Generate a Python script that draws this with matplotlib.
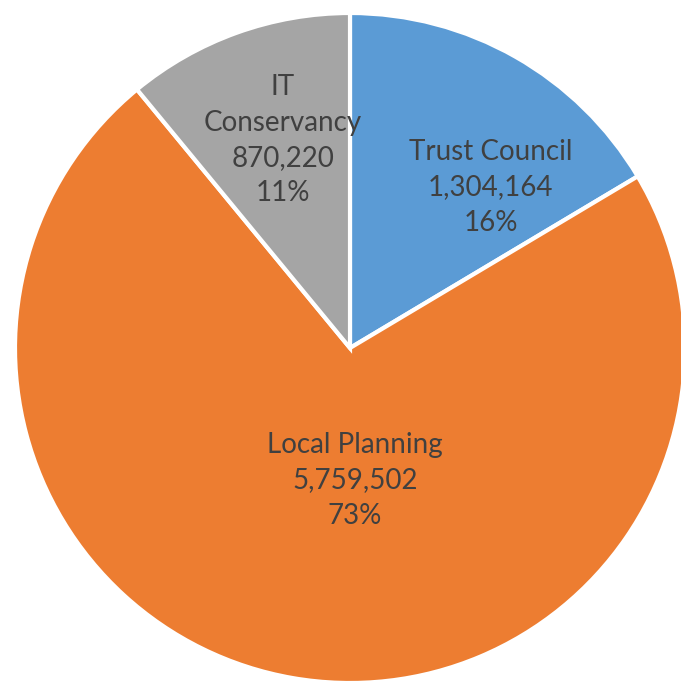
import matplotlib.pyplot as plt
import numpy as np

categories = ["Trust Council", "Local Planning", "IT\nConservancy"]
values = [1304164, 5759502, 870220]
colors = ["#5B9BD5", "#ED7D31", "#A5A5A5"]
# label offsets from centre (in pie radii), as Excel placed them
label_pos = [(0.42, 0.48), (0.015, -0.395), (-0.20, 0.62)]

fig = plt.figure(figsize=(6.81, 6.87), dpi=100)
ax = fig.add_axes([0, 0, 1, 1])

ax.pie(values, colors=colors, startangle=90, counterclock=False,
       wedgeprops=dict(edgecolor="white", linewidth=3))

total = sum(values)
for name, v, (x, y) in zip(categories, values, label_pos):
    pct = round(100 * v / total)
    ax.text(x, y, f"{name}\n{v:,}\n{pct}%", ha="center", va="center",
            fontsize=20, color="#404040", family="Lato", linespacing=1.45)

# centre at pixel (350, 348), radius 335 px
r = 335
ax.set_xlim(-350 / r, (681 - 350) / r)
ax.set_ylim(-(687 - 348) / r, 348 / r)
ax.set_aspect("auto")
ax.axis("off")

fig.savefig("out.png", dpi=100)
